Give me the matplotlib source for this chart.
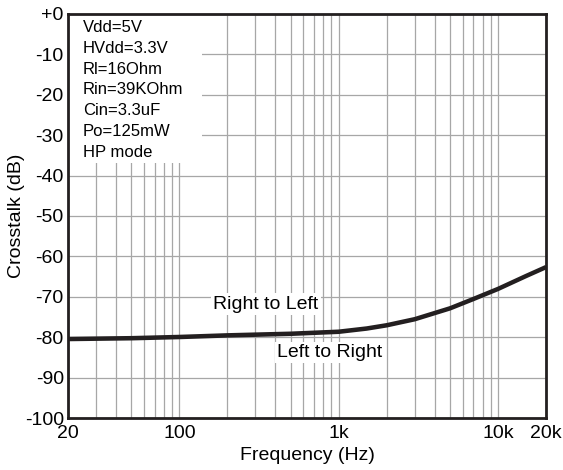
import matplotlib.pyplot as plt
from matplotlib.ticker import FixedLocator, NullFormatter

plt.rcParams['font.family'] = ['Liberation Sans', 'DejaVu Sans']

# crosstalk curves (Hz, dB)
freq = [20, 50, 100, 200, 500, 1000, 1500, 2000, 3000, 5000, 7000, 10000, 15000, 20000]
r_to_l = [-80.3, -80.1, -79.8, -79.4, -79.0, -78.5, -77.7, -76.9, -75.4, -72.7, -70.4, -67.9, -64.7, -62.5]
l_to_r = [-80.6, -80.4, -80.1, -79.7, -79.3, -78.8, -78.0, -77.2, -75.7, -73.0, -70.7, -68.2, -65.0, -62.8]

x_ticks = [20, 100, 1000, 10000, 20000]
x_labels = ['20', '100', '1k', '10k', '20k']
y_ticks = list(range(-100, 1, 10))
y_labels = ['+0' if v == 0 else str(v) for v in y_ticks]
minor_x = [m * d for d in (10, 100, 1000) for m in range(2, 10)] + [10000]

notes = ['Vdd=5V', 'HVdd=3.3V', 'Rl=16Ohm', 'Rin=39KOhm', 'Cin=3.3uF', 'Po=125mW', 'HP mode']

fig = plt.figure(figsize=(5.63, 4.70), dpi=100)
ax = fig.add_axes([68 / 563, 52 / 470, 478 / 563, 404 / 470])

ax.plot(freq, l_to_r, color='#231f20', lw=2.4, solid_capstyle='butt')
ax.plot(freq, r_to_l, color='#231f20', lw=2.4, solid_capstyle='butt')

ax.set_xscale('log')
ax.set_xlim(20, 20000)
ax.set_ylim(-100, 0)
ax.xaxis.set_major_locator(FixedLocator(x_ticks))
ax.set_xticklabels(x_labels)
ax.xaxis.set_minor_locator(FixedLocator(minor_x))
ax.xaxis.set_minor_formatter(NullFormatter())
ax.set_yticks(y_ticks)
ax.set_yticklabels(y_labels)

ax.grid(True, which='both', axis='x', color='#a7a7a7', lw=0.9)
ax.grid(True, which='major', axis='y', color='#a7a7a7', lw=0.9)
ax.set_axisbelow(True)
ax.tick_params(which='both', length=0, labelsize=14)
ax.tick_params(axis='x', pad=5)
ax.tick_params(axis='y', pad=3)
for s in ax.spines.values():
    s.set_linewidth(2)
    s.set_color('#231f20')

ax.set_xlabel('Frequency (Hz)', fontsize=14, va='center')
ax.xaxis.set_label_coords(0.5, (418 - 455) / 404)
ax.set_ylabel('Crosstalk (dB)', fontsize=14, va='center')
ax.yaxis.set_label_coords((17 - 68) / 478, 0.5)

# white panel behind the test conditions
ax.add_patch(plt.Rectangle((0, 1 - 149 / 404), 134 / 478, 149 / 404,
                           transform=ax.transAxes, facecolor='white',
                           edgecolor='none', zorder=1.5))
for i, t in enumerate(notes):
    ax.text(15 / 478, 1 - (13.5 + i * 20.8) / 404, t, transform=ax.transAxes,
            fontsize=12, va='center', ha='left', zorder=3)

box = dict(facecolor='white', edgecolor='none', pad=1.5)
ax.text(350, -71.8, 'Right to Left', fontsize=14, ha='center', va='center', bbox=box, zorder=3)
ax.text(883, -83.7, 'Left to Right', fontsize=14, ha='center', va='center', bbox=box, zorder=3)

fig.savefig('out.png', dpi=100)
